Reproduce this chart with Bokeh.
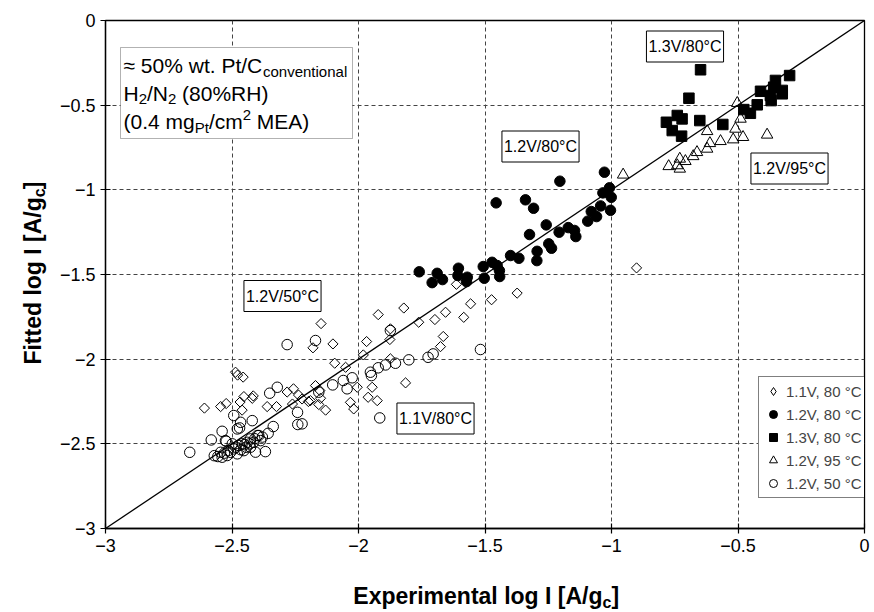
import numpy as np
from bokeh.plotting import figure
from bokeh.layouts import column, row
from bokeh.models import Label, BoxAnnotation, Legend, LegendItem, FixedTicker, Range1d
from bokeh.embed import file_html
from bokeh.resources import INLINE

# ---------------- data ----------------
# 1.1V, 80 °C  (open diamonds)
v11_x = [-0.901, -1.373, -1.613, -1.474, -1.557, -1.584, -1.656, -1.698, -1.762, -1.821,
         -1.922, -1.874, -1.876, -1.665, -1.676, -1.968, -2.148, -2.101, -2.180, -1.981,
         -2.094, -2.051, -1.874, -1.814, -1.946, -2.005, -2.170, -2.153, -2.150, -2.223,
         -2.190, -2.130, -2.032, -2.019, -1.962, -1.926, -2.486, -2.478, -2.456, -2.609,
         -2.545, -2.523, -2.468, -2.453, -2.416, -2.420, -2.460, -2.361, -2.324, -2.282,
         -2.257, -2.237, -2.261, -2.157, -2.198]
v11_y = [-1.461, -1.610, -1.558, -1.649, -1.673, -1.753, -1.723, -1.766, -1.782, -1.698,
         -1.737, -1.821, -1.884, -1.866, -1.926, -1.896, -1.790, -1.910, -1.933, -1.975,
         -2.024, -2.048, -1.998, -2.140, -2.166, -2.166, -2.156, -2.185, -2.231, -2.235,
         -2.245, -2.301, -2.255, -2.294, -2.225, -2.245, -2.077, -2.094, -2.106, -2.289,
         -2.280, -2.262, -2.253, -2.221, -2.217, -2.231, -2.301, -2.280, -2.280, -2.194,
         -2.175, -2.212, -2.265, -2.268, -2.250]

# 1.2V, 80 °C  (filled circles)
v12_x = [-1.028, -1.204, -1.008, -1.034, -1.001, -1.456, -1.340, -1.308, -1.043, -1.080,
         -1.004, -1.059, -1.094, -1.258, -1.171, -1.207, -1.146, -1.141, -1.324, -1.248,
         -1.237, -1.294, -1.295, -1.399, -1.366, -1.472, -1.452, -1.443, -1.442, -1.507,
         -1.503, -1.605, -1.607, -1.570, -1.573, -1.689, -1.668, -1.709, -1.760]
v12_y = [-0.896, -0.949, -0.988, -1.018, -1.044, -1.077, -1.059, -1.109, -1.095, -1.128,
         -1.121, -1.158, -1.185, -1.207, -1.223, -1.250, -1.240, -1.276, -1.264, -1.319,
         -1.345, -1.363, -1.418, -1.388, -1.404, -1.428, -1.447, -1.477, -1.512, -1.453,
         -1.522, -1.463, -1.506, -1.516, -1.542, -1.493, -1.530, -1.548, -1.484]

# 1.3V, 80 °C  (filled squares)
v13_x = [-0.648, -0.296, -0.352, -0.359, -0.325, -0.325, -0.411, -0.372, -0.369, -0.694,
         -0.424, -0.477, -0.451, -0.740, -0.721, -0.783, -0.651, -0.560, -0.760, -0.723]
v13_y = [-0.291, -0.325, -0.354, -0.394, -0.413, -0.433, -0.418, -0.443, -0.473, -0.459,
         -0.498, -0.526, -0.548, -0.561, -0.581, -0.601, -0.591, -0.614, -0.650, -0.683]

# 1.2V, 95 °C  (open triangles)
v95_x = [-0.954, -0.503, -0.490, -0.622, -0.510, -0.385, -0.480, -0.519, -0.569, -0.611,
         -0.622, -0.662, -0.677, -0.708, -0.730, -0.774, -0.740, -0.730]
v95_y = [-0.911, -0.488, -0.581, -0.654, -0.640, -0.675, -0.689, -0.703, -0.713, -0.725,
         -0.758, -0.778, -0.802, -0.831, -0.817, -0.861, -0.856, -0.876]

# 1.2V, 50 °C  (open circles)
v50_x = [-1.518, -1.705, -1.725, -1.801, -1.854, -1.893, -1.922, -1.953, -1.949, -2.025,
         -2.060, -2.045, -2.102, -2.157, -2.170, -1.874, -1.916, -2.223, -2.282, -2.321,
         -2.351, -2.241, -2.240, -2.493, -2.466, -2.420, -2.479, -2.337, -2.357, -2.539,
         -2.582, -2.523, -2.667, -2.368, -2.407, -2.453, -2.479, -2.556, -2.539, -2.519,
         -2.506, -2.493, -2.473, -2.460, -2.440, -2.427, -2.400, -2.387, -2.499, -2.427,
         -2.414, -2.444, -2.545, -2.526, -2.394, -2.470, -2.570, -2.530, -2.515, -2.485,
         -2.450, -2.430, -2.465, -2.410, -2.380]
v50_y = [-1.943, -1.969, -1.989, -2.004, -2.024, -2.034, -2.051, -2.077, -2.097, -2.110,
         -2.126, -2.175, -2.152, -2.195, -1.890, -1.831, -2.347, -2.382, -1.914, -2.166,
         -2.201, -2.314, -2.386, -2.333, -2.373, -2.363, -2.412, -2.398, -2.438, -2.426,
         -2.477, -2.485, -2.550, -2.546, -2.549, -2.540, -2.559, -2.575, -2.579, -2.569,
         -2.550, -2.530, -2.510, -2.500, -2.491, -2.471, -2.451, -2.481, -2.500, -2.520,
         -2.491, -2.520, -2.550, -2.481, -2.451, -2.406, -2.570, -2.555, -2.540, -2.520,
         -2.505, -2.500, -2.535, -2.470, -2.460]

diag = [-3, 0]
ticks = [-3, -2.5, -2, -1.5, -1, -0.5, 0]
tick_labels = ["\u22123", "\u22122.5", "\u22122", "\u22121.5", "\u22121", "\u22120.5", "0"]
legend_labels = ["1.1V, 80 \u00b0C", "1.2V, 80 \u00b0C", "1.3V, 80 \u00b0C", "1.2V, 95 \u00b0C", "1.2V, 50 \u00b0C"]
tag_texts = ["1.3V/80\u00b0C", "1.2V/95\u00b0C", "1.2V/80\u00b0C", "1.2V/50\u00b0C", "1.1V/80\u00b0C"]

# ---------------- layout ----------------
W, H = 874, 612
LW, BH = 50, 40                  # strips holding the axis titles
L, R, T, B = 105, 10, 20, 84     # frame position in page pixels
FW, FH = W - L - R, H - T - B
FONT = "Liberation Sans"
MID = 0.3465                     # baseline -> em-box middle, in em


def X(px):
    return -3 + 3 * (px - L) / FW


def Y(py):
    return -3 * (py - T) / FH


p = figure(width=W - LW, height=H - BH, x_range=Range1d(-3, 0), y_range=Range1d(-3, 0),
           output_backend="svg", toolbar_location=None,
           min_border_left=L - LW, min_border_right=R, min_border_top=T, min_border_bottom=B - BH)
p.background_fill_color = "white"
p.border_fill_color = "white"
p.outline_line_color = "black"
p.outline_line_width = 1.3

overrides = {t: s for t, s in zip(ticks, tick_labels)}
for ax in (p.xaxis[0], p.yaxis[0]):
    ax.ticker = FixedTicker(ticks=ticks)
    ax.major_label_overrides = overrides
    ax.major_label_text_font = FONT
    ax.major_label_text_font_size = "18px"
    ax.major_label_text_color = "black"
    ax.axis_line_color = "black"
    ax.axis_line_width = 1.3
    ax.major_tick_line_color = "black"
    ax.major_tick_line_width = 1.2
    ax.major_tick_in = 5
    ax.major_tick_out = 5
    ax.minor_tick_line_color = None
p.xaxis[0].major_label_standoff = 5
p.yaxis[0].major_label_standoff = 5

for g in (p.xgrid[0], p.ygrid[0]):
    g.ticker = FixedTicker(ticks=ticks)
    g.grid_line_color = "#444444"
    g.grid_line_dash = "4 3"
    g.grid_line_width = 1

p.line(diag, diag, line_color="black", line_width=1.3)

r11 = p.scatter(v11_x, v11_y, marker="square", angle=np.pi / 4, size=7.2,
                fill_color=None, line_color="black", line_width=1)
r12 = p.scatter(v12_x, v12_y, marker="circle", size=10.5, fill_color="black", line_color="black")
r13 = p.scatter(v13_x, v13_y, marker="square", size=10.5, fill_color="black", line_color="black")
r95 = p.scatter(v95_x, v95_y, marker="triangle", size=11.5, fill_color=None,
                line_color="black", line_width=1)
r50 = p.scatter(v50_x, v50_y, marker="circle", size=10.5, fill_color=None,
                line_color="black", line_width=1)
# hidden twin of the diamonds, only used to draw the legend's diamond symbol
r11_leg = p.scatter(v11_x, v11_y, marker="diamond", size=10, fill_color=None,
                    line_color="black", line_width=1, visible=False)

legend = Legend(items=[LegendItem(label=legend_labels[0], renderers=[r11_leg]),
                       LegendItem(label=legend_labels[1], renderers=[r12]),
                       LegendItem(label=legend_labels[2], renderers=[r13]),
                       LegendItem(label=legend_labels[3], renderers=[r95]),
                       LegendItem(label=legend_labels[4], renderers=[r50])],
                location=(653, 30), padding=4, spacing=3, margin=0,
                glyph_width=20, glyph_height=20, label_height=20, label_standoff=3,
                label_text_font=FONT, label_text_font_size="15px",
                border_line_color="black", border_line_width=1,
                background_fill_color="white", background_fill_alpha=1,
                inactive_fill_alpha=0)
p.add_layout(legend)


def lab(fig, text, x, y, size, bold=False, angle=0, align="left", baseline="middle", **kw):
    fig.add_layout(Label(x=x, y=y, text=text, text_font=FONT,
                         text_font_size=f"{size}px",
                         text_font_style="bold" if bold else "normal",
                         angle=angle, text_align=align, text_baseline=baseline,
                         text_color="black", **kw))


def mlab(text, px, py, size, **kw):
    """px, py: page position of the text's left end on its baseline."""
    lab(p, text, X(px), Y(py - MID * size), size, **kw)


# tag boxes
tag_pos = [(684.5, 46), (789, 168), (540, 146), (282, 295.5), (435, 418)]
for t, (cx, cy) in zip(tag_texts, tag_pos):
    lab(p, t, X(cx), Y(cy), 16, align="center",
        border_line_color="black", border_line_width=1,
        background_fill_color="white", padding=(2, 7))

# info box
p.add_layout(BoxAnnotation(left=X(120), right=X(352), top=Y(47), bottom=Y(138),
                           fill_color="white", fill_alpha=1, line_color="black", line_width=1))
mlab("\u2248 50% wt. Pt/C", 123, 72, 21)
mlab("conventional", 262.5, 76, 15)
mlab("H", 123, 100, 21)
mlab("2", 138.2, 104, 15)
mlab("/N", 146.5, 100, 21)
mlab("2", 167.5, 104, 15)
mlab("(80%RH)", 181.6, 100, 21)
mlab("(0.4 mg", 123, 128, 21)
mlab("Pt", 194.2, 132, 15)
mlab("/cm", 208.4, 128, 21)
mlab("2", 242.2, 120, 15)
mlab("MEA)", 256.3, 128, 21)


def strip(w, h):
    f = figure(width=w, height=h, x_range=Range1d(0, w), y_range=Range1d(0, h),
               output_backend="svg", toolbar_location=None,
               x_axis_type=None, y_axis_type=None,
               min_border_left=0, min_border_right=0, min_border_top=0, min_border_bottom=0)
    f.outline_line_color = None
    f.grid.visible = False
    f.background_fill_color = "white"
    f.border_fill_color = "white"
    return f


# left strip: y-axis title, rotated (page px -> strip coords: x = px, y = SH - py)
SH = H - BH
pl = strip(LW, SH)
lab(pl, "Fitted log I [A/g", 40 - MID * 23, SH - 199, 23, bold=True, angle=np.pi / 2, align="right")
lab(pl, "c", 45 - MID * 16, SH - 199, 16, bold=True, angle=np.pi / 2)
lab(pl, "]", 40 - MID * 23, SH - 190.1, 23, bold=True, angle=np.pi / 2)

# bottom strip: x-axis title (page px -> strip coords: x = px, y = H - py)
pb = strip(W, BH)
lab(pb, "Experimental log I [A/g", 602, H - (603 - MID * 23), 23, bold=True, align="right")
lab(pb, "c", 602, H - (608 - MID * 16), 16, bold=True)
lab(pb, "]", 610.9, H - (603 - MID * 23), 23, bold=True)

layout = column(row(pl, p), pb)
open("out.html", "w").write(file_html(layout, INLINE))
